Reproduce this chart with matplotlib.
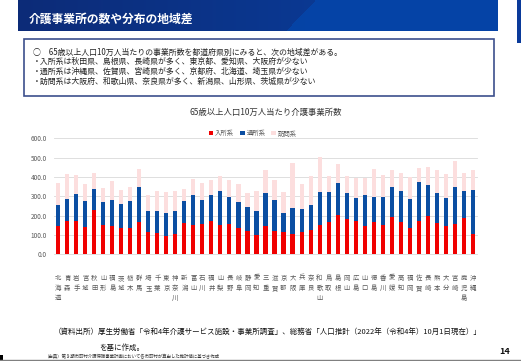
import numpy as np
import matplotlib
matplotlib.use("Agg")
import matplotlib.pyplot as plt
from matplotlib.patches import Rectangle

plt.rcParams['font.family'] = ['Noto Sans CJK JP', 'DejaVu Sans']

# 都道府県と事業所数（65歳以上人口10万人当たり）
prefs = ["北海道", "青森", "岩手", "宮城", "秋田", "山形", "福島", "茨城", "栃木", "群馬",
         "埼玉", "千葉", "東京", "神奈川", "新潟", "富山", "石川", "福井", "山梨", "長野",
         "岐阜", "静岡", "愛知", "三重", "滋賀", "京都", "大阪", "兵庫", "奈良", "和歌山",
         "鳥取", "島根", "岡山", "広島", "山口", "徳島", "香川", "愛媛", "高知", "福岡",
         "佐賀", "長崎", "熊本", "大分", "宮崎", "鹿児島", "沖縄"]
nyusho = [147, 174, 174, 140, 228, 150, 145, 138, 138, 167, 114, 109, 97, 107, 164, 153,
          157, 171, 150, 155, 138, 119, 102, 148, 121, 114, 103, 114, 128, 150, 167, 202,
          181, 174, 145, 167, 153, 191, 166, 138, 171, 200, 160, 148, 159, 188, 103]
tsusho = [108, 112, 140, 138, 108, 122, 136, 122, 138, 180, 110, 115, 117, 119, 112, 154,
          126, 136, 179, 143, 134, 128, 124, 169, 160, 102, 137, 120, 129, 174, 157, 165,
          138, 119, 162, 131, 145, 156, 159, 148, 201, 157, 159, 143, 189, 140, 228]
houmon = [112, 130, 98, 86, 83, 71, 98, 71, 71, 94, 81, 102, 108, 103, 64, 83,
          84, 77, 76, 86, 92, 72, 103, 119, 103, 108, 232, 130, 148, 178, 81, 100,
          88, 100, 86, 142, 111, 89, 95, 114, 73, 93, 117, 125, 135, 93, 105]
series_names = ["入所系", "通所系", "訪問系"]
yticks = [0, 100, 200, 300, 400, 500, 600]

W, H = 521, 361
fig = plt.figure(figsize=(W / 100, H / 100), dpi=100)
fig.patch.set_facecolor("white")


def fx(x):
    return x / W


def fy(y):
    return 1 - y / H


# タイトル帯（グラデーション）
bax = fig.add_axes([fx(18), fy(31), fx(498 - 18), 31 / H])
gx, gy = np.meshgrid(np.linspace(0, 1, 480), np.linspace(0, 1, 31))
dark = np.array([0.05, 0.17, 0.47])
mid = np.array([0.04, 0.22, 0.57])
light = np.array([0.02, 0.27, 0.66])
t = np.clip(gx / 0.6, 0, 1)[..., None]
img = dark * (1 - t) + mid * t
edge = (gx + gy * 0.06) > 0.62
img[edge] = light * 0.9 + img[edge] * 0.1
bax.imshow(img, aspect="auto", interpolation="bilinear")
bax.axis("off")
fig.text(fx(29), fy(19), "介護事業所の数や分布の地域差", color="white", fontsize=8.5,
         fontweight="bold", va="center", ha="left")
fig.patches.append(Rectangle((fx(517), fy(43)), fx(5), 43 / H, transform=fig.transFigure,
                             facecolor="#0a3a9a", edgecolor="none"))

# 説明ボックス
fig.patches.append(Rectangle((fx(24), fy(96)), fx(494 - 24), (96 - 39) / H,
                             transform=fig.transFigure, facecolor="white",
                             edgecolor="#3c4f8c", lw=1.2))
lines = ["○　65歳以上人口10万人当たりの事業所数を都道府県別にみると、次の地域差がある。",
         "・入所系は秋田県、島根県、長崎県が多く、東京都、愛知県、大阪府が少ない",
         "・通所系は沖縄県、佐賀県、宮崎県が多く、京都府、北海道、埼玉県が少ない",
         "・訪問系は大阪府、和歌山県、奈良県が多く、新潟県、山形県、茨城県が少ない"]
for i, s in enumerate(lines):
    fig.text(fx(33), fy(52 + i * 9.7), s, fontsize=5.7, color="#222222",
             va="center", ha="left")

# グラフ
ax = fig.add_axes([fx(54), fy(254.3), fx(477 - 54), (254.3 - 138.3) / H])
x = np.arange(len(prefs))
nyusho = np.array(nyusho)
tsusho = np.array(tsusho)
houmon = np.array(houmon)
w = 0.45
ax.bar(x, nyusho, w, color="#f00000", label=series_names[0], zorder=3)
ax.bar(x, tsusho, w, bottom=nyusho, color="#0b4ea2", label=series_names[1], zorder=3)
ax.bar(x, houmon, w, bottom=nyusho + tsusho, color="#fcdede", label=series_names[2], zorder=3)
ax.set_xlim(-0.48, len(prefs) - 0.52)
ax.set_ylim(0, 600)
ax.set_yticks(yticks)
ax.set_yticklabels(["%.1f" % v for v in yticks])
ax.yaxis.grid(True, color="#d9d9d9", lw=0.6, zorder=0)
ax.set_xticks(x)
ax.set_xticklabels(["\n".join(p) for p in prefs], linespacing=1.35)
ax.tick_params(axis="both", length=0, labelsize=4.6, colors="#595959")
ax.tick_params(axis="y", pad=5)
ax.tick_params(axis="x", pad=14)
for lab in ax.get_xticklabels():
    lab.set_va("top")
for sp in ax.spines.values():
    sp.set_visible(False)
ax.set_clip_on(False)
for gl in ax.get_ygridlines():
    gl.set_clip_on(False)

ax.set_title("65歳以上人口10万人当たり介護事業所数", fontsize=6, color="#333333", pad=17)
ax.legend(loc="lower center", bbox_to_anchor=(0.47, 0.985), ncol=3, frameon=False,
          fontsize=4.6, handlelength=0.7, handleheight=0.7, handletextpad=0.3,
          columnspacing=0.9, labelcolor="#595959", borderaxespad=0)

# 出所
fig.text(fx(54), fy(332), "（資料出所）厚生労働省「令和4年介護サービス施設・事業所調査」、総務省「人口推計（2022年（令和4年）10月1日現在）」",
         fontsize=5.4, color="#111111", va="center", ha="left")
fig.text(fx(99), fy(348), "を基に作成。", fontsize=5.4, color="#111111", va="center", ha="left")
fig.text(fx(45), fy(356.5), "（出典）第９期市町村介護保険事業計画において各市町村が算出した推計値に基づき作成",
         fontsize=3.2, color="#333333", va="center", ha="left")
fig.text(fx(505), fy(351), "14", fontsize=6.5, fontweight="bold", color="#111111",
         va="center", ha="center")
fig.lines.append(plt.Line2D([0, 1], [fy(360), fy(360)], transform=fig.transFigure,
                            color="#808080", lw=1))
fig.patches.append(Rectangle((0, 0), fx(3), 6 / H, transform=fig.transFigure,
                             facecolor="black", edgecolor="none"))

fig.savefig("out.png", dpi=100)
